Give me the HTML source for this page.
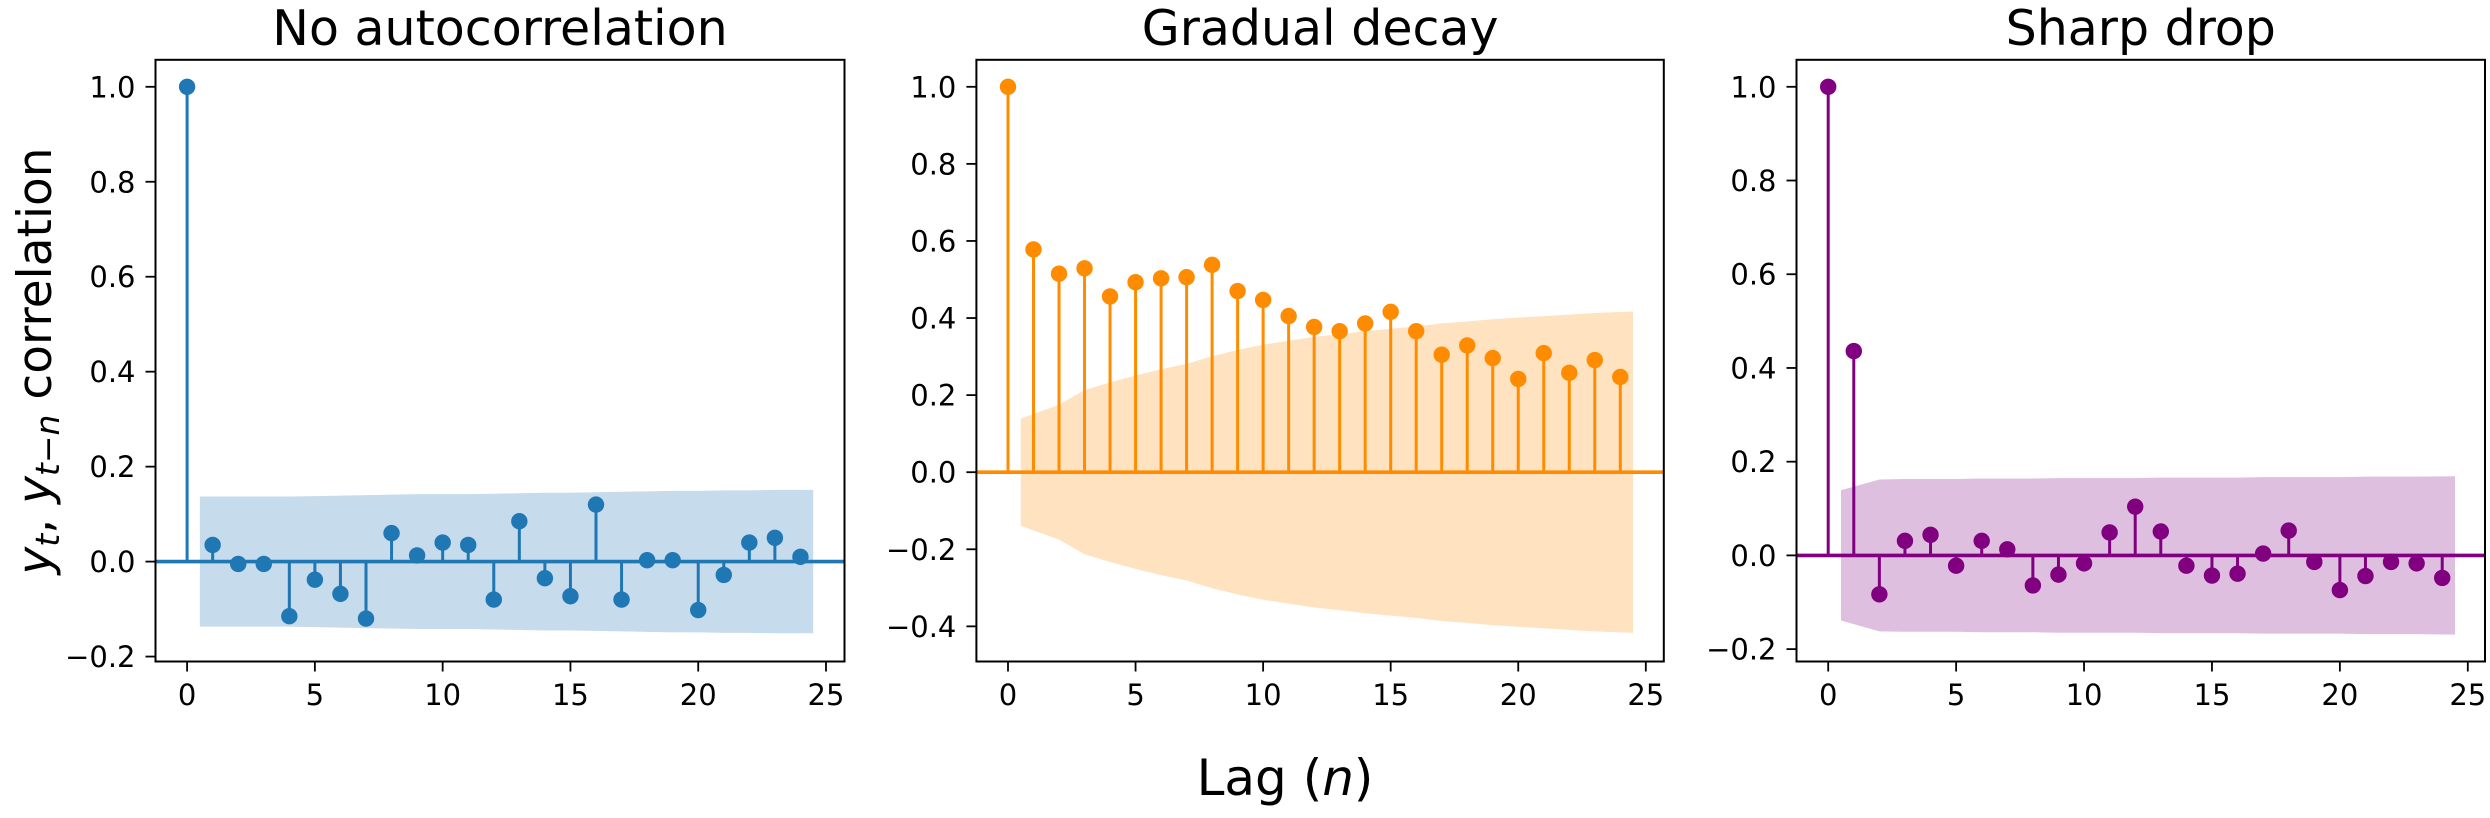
<!DOCTYPE html>
<html><head><meta charset="utf-8"><style>
html,body{margin:0;padding:0;background:#fff;}
svg{display:block;font-family:"DejaVu Sans","Liberation Sans",sans-serif;}
</style></head>
<body>
<svg id="fig" width="2490" height="818" viewBox="0 0 2490 818" xmlns="http://www.w3.org/2000/svg">
<rect width="2490" height="818" fill="#fff"/>
<text transform="translate(51,361) rotate(-90)" text-anchor="middle" font-size="47" fill="#000"><tspan font-style="italic">y</tspan><tspan font-style="italic" font-size="33" dy="8">t</tspan><tspan dy="-8">, </tspan><tspan font-style="italic">y</tspan><tspan font-style="italic" font-size="33" dy="8">t−n</tspan><tspan dy="-8"> correlation</tspan></text>
<text x="1285" y="795" text-anchor="middle" font-size="50" fill="#000">Lag (<tspan font-style="italic">n</tspan>)</text>
</svg>
<script>
const lags = [0,1,2,3,4,5,6,7,8,9,10,11,12,13,14,15,16,17,18,19,20,21,22,23,24];
const acfNone = [1.0,0.035,-0.005,-0.005,-0.115,-0.038,-0.068,-0.12,0.06,0.013,0.04,0.035,-0.08,0.085,-0.035,-0.073,0.12,-0.08,0.003,0.003,-0.102,-0.028,0.04,0.05,0.01];
const bandNone = [0.137,0.137,0.137,0.137,0.138,0.139,0.140,0.141,0.142,0.142,0.142,0.143,0.144,0.145,0.145,0.146,0.147,0.148,0.149,0.149,0.150,0.150,0.151,0.151];
const acfDecay = [1.0,0.578,0.515,0.529,0.456,0.493,0.503,0.506,0.538,0.47,0.447,0.405,0.377,0.366,0.386,0.416,0.366,0.305,0.329,0.296,0.242,0.309,0.258,0.291,0.247];
const bandDecay = [0.139,0.175,0.213,0.233,0.251,0.267,0.281,0.301,0.317,0.331,0.341,0.351,0.358,0.366,0.372,0.378,0.386,0.391,0.397,0.401,0.405,0.409,0.413,0.417];
const acfSharp = [1.0,0.436,-0.083,0.031,0.044,-0.022,0.031,0.013,-0.064,-0.041,-0.017,0.049,0.104,0.051,-0.022,-0.043,-0.039,0.004,0.053,-0.014,-0.074,-0.044,-0.014,-0.017,-0.048];
const bandSharp = [0.139,0.162,0.163,0.163,0.163,0.164,0.164,0.164,0.165,0.165,0.165,0.165,0.166,0.166,0.166,0.166,0.167,0.167,0.167,0.167,0.168,0.168,0.168,0.169];
const xTicks = [0,5,10,15,20,25];
const yTicksA = [-0.2,0,0.2,0.4,0.6,0.8,1.0];
const yTicksB = [-0.4,-0.2,0,0.2,0.4,0.6,0.8,1.0];
const titles = ["No autocorrelation","Gradual decay","Sharp drop"];

const NS = "http://www.w3.org/2000/svg";
const svg = document.getElementById('fig');
function mk(tag, attrs, parent){const e=document.createElementNS(NS,tag);for(const k in attrs)e.setAttribute(k,attrs[k]);(parent||svg).appendChild(e);return e;}
function fmt(v){return (v<0?'−':'')+Math.abs(v).toFixed(1);}

const panels = [
 {left:155.5,right:844.5,x0:187.1,x25:826,yTop:59.8,yBot:661.5,zeroPx:561.6,unit:474.8,acf:acfNone,band:bandNone,yt:yTicksA,color:'#1f77b4',fill:'#c6dbec',key:'none'},
 {left:976.4,right:1663.8,x0:1008,x25:1645.8,yTop:59.8,yBot:661.5,zeroPx:472.2,unit:385.4,acf:acfDecay,band:bandDecay,yt:yTicksB,color:'#ff8c00',fill:'#ffe2bf',key:'decay'},
 {left:1796.5,right:2485,x0:1828.2,x25:2467.8,yTop:59.8,yBot:661.5,zeroPx:555.4,unit:468.6,acf:acfSharp,band:bandSharp,yt:yTicksA,color:'#800080',fill:'#dfbfdf',key:'sharp'}
];

panels.forEach((p,pi)=>{
  const X = v => p.x0 + v*(p.x25-p.x0)/25;
  const Y = v => p.zeroPx - v*p.unit;
  const g = mk('g',{});
  
  
  const bx = lags.slice(1).map((l,i)=> i===0 ? l-0.5 : (i===lags.length-2 ? l+0.5 : l));
  let d='';
  bx.forEach((x,i)=>{d+=(i?'L':'M')+X(x)+','+Y(p.band[i]);});
  for(let i=bx.length-1;i>=0;i--) d+='L'+X(bx[i])+','+Y(-p.band[i]);
  const band = mk('path',{d:d+'Z',fill:p.fill},g);
  
  
  const zl = mk('line',{x1:p.left,x2:p.right,y1:Y(0),y2:Y(0),stroke:p.color,'stroke-width':3.6},g);
  
  
  lags.forEach((l,i)=>{
    const s = mk('line',{x1:X(l),x2:X(l),y1:Y(0),y2:Y(p.acf[i]),stroke:p.color,'stroke-width':3},g);
    
    
  });
  lags.forEach((l,i)=>{
    const c = mk('circle',{cx:X(l),cy:Y(p.acf[i]),r:8.2,fill:p.color},g);
    
    
  });
  const fr = mk('rect',{x:p.left,y:p.yTop,width:p.right-p.left,height:p.yBot-p.yTop,fill:'none',stroke:'#000','stroke-width':2},g);
  
  
  xTicks.forEach(t=>{
    mk('line',{x1:X(t),x2:X(t),y1:p.yBot,y2:p.yBot+10,stroke:'#000','stroke-width':1.8},g);
    const tx = mk('text',{x:X(t),y:705,'text-anchor':'middle','font-size':29,fill:'#000'},g);
    tx.textContent = t;
    
    
  });
  p.yt.forEach(t=>{
    mk('line',{x1:p.left-10,x2:p.left,y1:Y(t),y2:Y(t),stroke:'#000','stroke-width':1.8},g);
    const ty = mk('text',{x:p.left-20,y:Y(t)+10.5,'text-anchor':'end','font-size':29,fill:'#000'},g);
    ty.textContent = fmt(t);
    
    
  });
  const tt = mk('text',{x:(p.left+p.right)/2,y:45,'text-anchor':'middle','font-size':49,fill:'#000'},g);
  tt.textContent = titles[pi];
  
  
});
</script>
</body></html>
